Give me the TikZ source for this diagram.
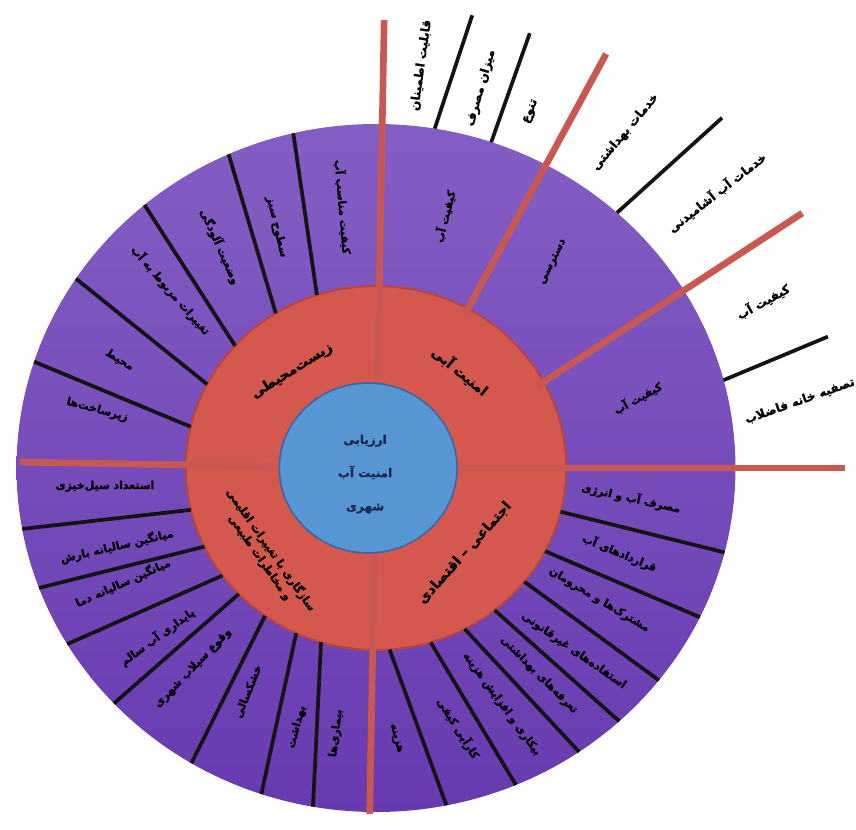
\documentclass[tikz,border=0pt]{standalone}
\usepackage{fontspec}
\usepackage{tikz}
\TeXXeTstate=1
\newfontfamily\persianfont[Script=Arabic,FakeBold=1.2]{DejaVu Sans Bold}
\newcommand{\fatxt}[1]{{\persianfont\beginR #1\endR}}

\definecolor{coreblue}{RGB}{86,150,211}
\definecolor{coreblueedge}{RGB}{58,102,165}
\definecolor{coretext}{RGB}{30,40,80}
\definecolor{ringred}{RGB}{213,88,78}
\definecolor{ringrededge}{RGB}{182,70,62}
\definecolor{spokered}{RGB}{202,88,82}
\definecolor{purpletop}{RGB}{132,94,196}
\definecolor{purplebot}{RGB}{104,58,176}

\begin{document}
\begin{tikzpicture}[x=0.75pt,y=0.75pt,yscale=-1,xscale=1,
  spoke/.style={draw=spokered,line width=5pt},
  divider/.style={draw=black!92,line width=2.8pt},
  lbl/.style={font=\fontsize{8.2}{10}\selectfont,inner sep=0pt},
  outlbl/.style={font=\fontsize{9}{11}\selectfont,inner sep=0pt},
  ringlbl/.style={font=\fontsize{10.3}{13}\selectfont,inner sep=0pt,align=center},
  corelbl/.style={font=\fontsize{9}{25}\selectfont,text=coretext,inner sep=0pt,align=center}]
\useasboundingbox (0,0) rectangle (856,829);

\begin{scope}[shift={(376,468)},yscale=-1,xscale=1.045]
%Shape: Ellipse [outer ring]
\shade[top color=purpletop,bottom color=purplebot] (0,0) circle (344);
%Shape: Ellipse [middle ring]
\draw[fill=ringred,draw=ringrededge,line width=1.5pt] (0,0) circle (182);

%Straight Lines [main spokes]
\draw[spoke] (89:70) -- (89:448);
\draw[spoke] (179:70) -- (179:341);
\draw[spoke] (269:70) -- (269:346);
\draw[spoke] (0:70) -- (0:449);
\draw[spoke] (61:176) -- (62:469);
\draw[spoke] (28:176) -- (32:481);

%Shape: Ellipse [core]
\draw[fill=coreblue,draw=coreblueedge,line width=1.2pt] (-7.5,0) circle (85);

%Straight Lines [dividers, upper left]
\draw[divider] (108.1:182) -- (103.3:344);
\draw[divider] (121.8:182) -- (114.2:344);
\draw[divider] (137.8:182) -- (130.1:344);
\draw[divider] (152.6:182) -- (146.6:344);
\draw[divider] (166.9:182) -- (162:344);
%Straight Lines [dividers, lower left]
\draw[divider] (193.3:182) -- (190.2:344);
\draw[divider] (205.6:182) -- (200.4:344);
\draw[divider] (216.2:182) -- (210.8:344);
\draw[divider] (223.8:182) -- (223.2:344);
\draw[divider] (234.3:182) -- (239.1:344);
\draw[divider] (245.2:182) -- (251.4:344);
\draw[divider] (253.2:182) -- (259.9:344);
%Straight Lines [dividers, lower right]
\draw[divider] (-13.9:182) -- (-14.2:344);
\draw[divider] (-27.2:182) -- (-25.7:344);
\draw[divider] (-38.7:182) -- (-38.1:344);
\draw[divider] (-51.4:182) -- (-47.4:344);
\draw[divider] (-62.2:182) -- (-55.6:344);
\draw[divider] (-73.3:182) -- (-67.1:344);
\draw[divider] (-85.9:182) -- (-78.7:344);
%Straight Lines [dividers, outside upper right]
\draw[divider] (80.6:344) -- (78.5:462);
\draw[divider] (71.3:344) -- (71.3:459);
\draw[divider] (47.9:344) -- (46.6:482);
\draw[divider] (14.8:344) -- (16.9:452);

% Text Node
\draw (-10.5,-6) node[corelbl] (core) {\fatxt{ارزیابی}\\\fatxt{امنیت آب}\\\fatxt{شهری}};

% Text Node [middle ring]
\draw (50.3:126) node[ringlbl,rotate=-39] (dimWater) {\fatxt{امنیت آبی}};
\draw (129.7:126) node[ringlbl,rotate=32] (dimEnv) {\fatxt{زیست‌محیطی}};
\draw (-45:120) node[ringlbl,rotate=48] (dimSoc) {\fatxt{اجتماعی – اقتصادی}};
\draw (219:136) node[lbl,align=center,rotate=-55] (dimClim) {\fatxt{سازگاری با تغییرات اقلیمی}\\\fatxt{و مخاطرات طبیعی}};

% Text Node [upper left]
\draw (96.9:263) node[lbl,rotate=-85] (env1) {\fatxt{کیفیت مناسب آب}};
\draw (111.5:259) node[lbl,rotate=-77] (env2) {\fatxt{سطوح سبز}};
\draw (124:267) node[lbl,rotate=-66] (env3) {\fatxt{وضعیت آلودگی}};
\draw (137.9:265) node[lbl,rotate=-49] (env4) {\fatxt{تغییرات مربوط به آب}};
\draw (156.2:268) node[lbl,rotate=-31] (env5) {\fatxt{محیط}};
\draw (167.7:273) node[lbl,rotate=-15] (env6) {\fatxt{زیرساخت‌ها}};

% Text Node [lower left]
\draw (184:260) node[lbl,rotate=0] (clim1) {\fatxt{استعداد سیل‌خیزی}};
\draw (197.5:260) node[lbl,rotate=13] (clim2) {\fatxt{میانگین سالیانه بارش}};
\draw (205.4:268) node[lbl,rotate=24] (clim3) {\fatxt{میانگین سالیانه دما}};
\draw (218.9:269) node[lbl,rotate=36] (clim4) {\fatxt{پایداری آب سالم}};
\draw (228.8:266) node[lbl,rotate=46] (clim5) {\fatxt{وقوع سیلاب شهری}};
\draw (241.3:255) node[lbl,rotate=68] (clim6) {\fatxt{خشکسالی}};
\draw (253.7:270) node[lbl,rotate=75] (clim7) {\fatxt{بهداشت}};
\draw (261.8:268) node[lbl,rotate=83] (clim8) {\fatxt{بیماری‌ها}};

% Text Node [lower right]
\draw (-7:246) node[lbl,rotate=-12.5] (soc1) {\fatxt{مصرف آب و انرژی}};
\draw (-20:248) node[lbl,rotate=-22.6] (soc2) {\fatxt{قراردادهای آب}};
\draw (-31.7:251) node[lbl,rotate=-31] (soc3) {\fatxt{مشترک‌ها و محرومان}};
\draw (-44:263) node[lbl,rotate=-35] (soc4) {\fatxt{استفاده‌های غیرقانونی}};
\draw (-53:259) node[lbl,rotate=-45] (soc5) {\fatxt{تعرفه‌های بهداشتی}};
\draw (-63:265) node[lbl,rotate=-54] (soc6) {\fatxt{بیکاری و افزایش هزینه}};
\draw (-73.2:272) node[lbl,rotate=-58] (soc7) {\fatxt{کارآیی کیفی}};
\draw (-86:271) node[lbl,rotate=-75] (soc8) {\fatxt{هزینه}};

% Text Node [upper right]
\draw (75.3:260) node[lbl,rotate=76] (wat1) {\fatxt{کیفیت آب}};
\draw (50.5:267) node[lbl,rotate=64] (wat2) {\fatxt{دسترسی}};
\draw (15.6:260) node[lbl,rotate=29] (wat3) {\fatxt{کیفیت آب}};

% Text Node [outside]
\draw (83.9:405) node[outlbl,rotate=82] (out1) {\fatxt{قابلیت اطمینان}};
\draw (75.2:393) node[outlbl,rotate=74] (out2) {\fatxt{میزان مصرف}};
\draw (67.4:386) node[outlbl,rotate=68] (out3) {\fatxt{تنوع}};
\draw (54.6:412) node[outlbl,rotate=50] (out4) {\fatxt{خدمات بهداشتی}};
\draw (40.2:427) node[outlbl,rotate=38] (out5) {\fatxt{خدمات آب آشامیدنی}};
\draw (24.2:406) node[outlbl,rotate=29] (out6) {\fatxt{کیفیت آب}};
\draw (9.4:411) node[outlbl,rotate=19.5] (out7) {\fatxt{تصفیه خانه فاضلاب}};
\end{scope}
\end{tikzpicture}
\end{document}
